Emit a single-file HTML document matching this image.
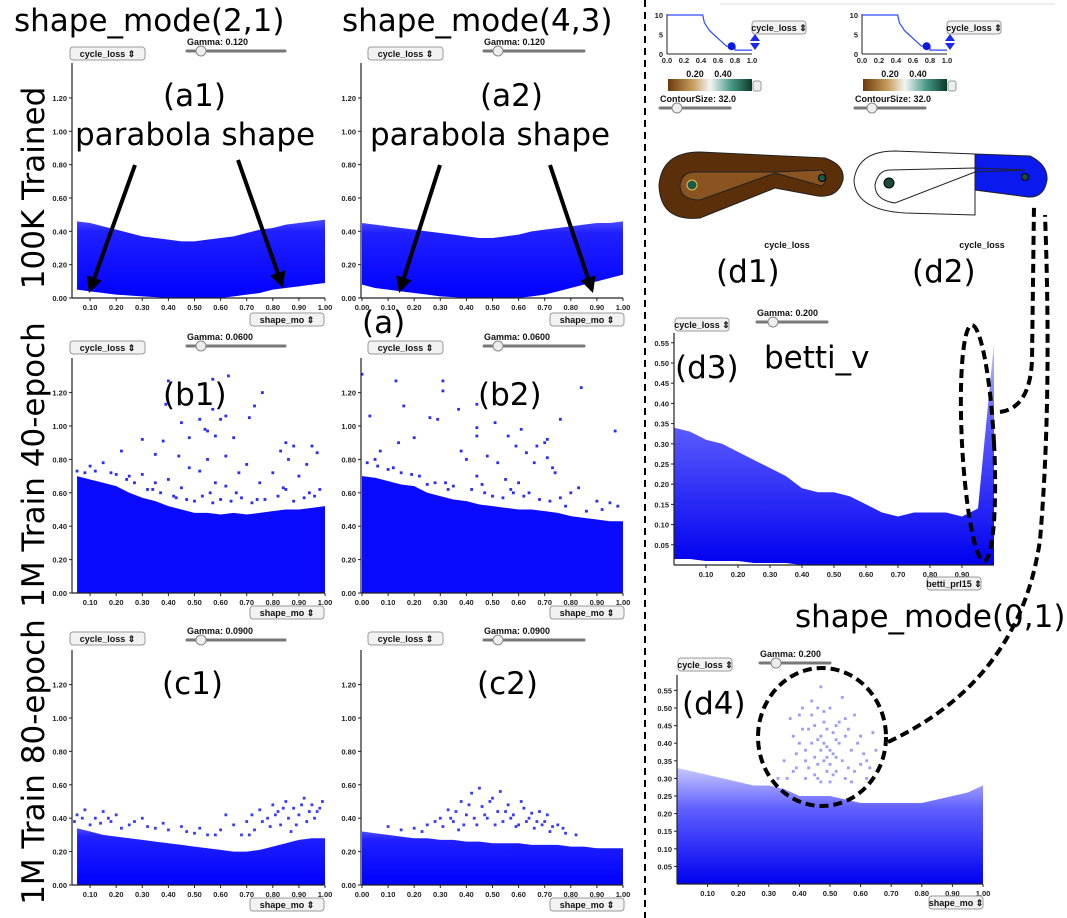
<!DOCTYPE html>
<html><head><meta charset="utf-8">
<style>
body{margin:0;background:#fff;}
svg{display:block;font-family:"DejaVu Sans","Liberation Sans",sans-serif;}
.big{font-size:31px;fill:#000;}
.tk{font-size:7.5px;fill:#222;font-family:"Liberation Sans",sans-serif;font-weight:bold;}
.btn{font-size:9px;font-family:"Liberation Sans",sans-serif;font-weight:bold;fill:#111;}
</style></head><body>
<svg id="fig" width="1067" height="918" viewBox="0 0 1067 918">
<defs>
<linearGradient id="gSolid" x1="0" y1="0" x2="0" y2="1"><stop offset="0" stop-color="#4a4aff"/><stop offset="0.15" stop-color="#2020ff"/><stop offset="1" stop-color="#0000ff"/></linearGradient>
<linearGradient id="gSoft" x1="0" y1="0" x2="0" y2="1"><stop offset="0" stop-color="#c8c8ff"/><stop offset="0.35" stop-color="#6060ff"/><stop offset="1" stop-color="#0000f0"/></linearGradient>
<linearGradient id="gCbar" x1="0" y1="0" x2="1" y2="0"><stop offset="0" stop-color="#6b3a0a"/><stop offset="0.3" stop-color="#c8a060"/><stop offset="0.5" stop-color="#f4f4f4"/><stop offset="0.75" stop-color="#4a9a88"/><stop offset="1" stop-color="#0a3a2a"/></linearGradient>
<marker id="arr" viewBox="0 0 10 10" refX="8" refY="5" markerWidth="4" markerHeight="4" orient="auto"><path d="M0,0 L10,5 L0,10 z" fill="#000"/></marker>
</defs>
<g id="root"></g>
</svg>
<script>
// ---- data (x grid 0..1 step 0.05) ----
const xGrid=[0,0.05,0.1,0.15,0.2,0.25,0.3,0.35,0.4,0.45,0.5,0.55,0.6,0.65,0.7,0.75,0.8,0.85,0.9,0.95,1.0];
const yTicksMain=[0,0.2,0.4,0.6,0.8,1.0,1.2];
const yTicksD=[0.05,0.1,0.15,0.2,0.25,0.3,0.35,0.4,0.45,0.5,0.55];
const xTicksFull=[0,0.1,0.2,0.3,0.4,0.5,0.6,0.7,0.8,0.9,1.0];
const xTicksNoZero=[0.1,0.2,0.3,0.4,0.5,0.6,0.7,0.8,0.9,1.0];
const xTicksD3=[0.1,0.2,0.3,0.4,0.5,0.6,0.7,0.8,0.9];
const a1Upper=[0.46,0.46,0.45,0.43,0.41,0.39,0.37,0.36,0.35,0.34,0.34,0.35,0.36,0.37,0.39,0.41,0.42,0.44,0.45,0.46,0.47];
const a1Lower=[0.05,0.05,0.04,0.03,0.02,0.015,0.01,0.005,0,0,0,0,0,0.01,0.02,0.03,0.05,0.06,0.07,0.08,0.09];
const a2Upper=[0.45,0.44,0.43,0.42,0.41,0.40,0.39,0.38,0.37,0.36,0.36,0.37,0.38,0.40,0.41,0.42,0.43,0.44,0.45,0.45,0.46];
const a2Lower=[0.08,0.06,0.05,0.04,0.03,0.02,0.01,0.005,0,0,0,0,0,0.01,0.02,0.04,0.06,0.08,0.10,0.12,0.14];
const b1Upper=[0.70,0.70,0.68,0.66,0.64,0.60,0.57,0.55,0.52,0.50,0.48,0.48,0.47,0.48,0.47,0.48,0.49,0.50,0.50,0.51,0.52];
const b2Upper=[0.70,0.69,0.67,0.65,0.64,0.60,0.58,0.56,0.55,0.53,0.52,0.51,0.50,0.50,0.49,0.48,0.46,0.45,0.44,0.43,0.43];
const c1Upper=[0.35,0.34,0.32,0.30,0.29,0.28,0.27,0.26,0.25,0.24,0.23,0.22,0.21,0.20,0.20,0.21,0.23,0.25,0.27,0.28,0.28];
const c2Upper=[0.32,0.31,0.30,0.29,0.28,0.28,0.27,0.27,0.26,0.26,0.25,0.25,0.25,0.24,0.24,0.24,0.23,0.23,0.22,0.22,0.22];
const d3Upper=[0.34,0.33,0.31,0.30,0.28,0.26,0.24,0.22,0.19,0.18,0.18,0.17,0.15,0.13,0.12,0.13,0.13,0.13,0.12,0.14,0.55];
const d4Upper=[0.33,0.32,0.31,0.30,0.29,0.28,0.28,0.27,0.25,0.25,0.25,0.24,0.23,0.23,0.23,0.23,0.23,0.24,0.25,0.26,0.28];
const zeroLower=[0,0,0,0,0,0,0,0,0,0,0,0,0,0,0,0,0,0,0,0,0];
const d3Lower=[0.015,0.015,0.01,0.01,0.01,0.005,0.005,0.005,0,0,0,0,0,0,0,0,0,0,0,0,0];
const b1PtsX=[0.40,0.57,0.63,0.39,0.76,0.73,0.57,0.62,0.71,0.45,0.52,0.60,0.54,0.55,0.30,0.48,0.65,0.58,0.38,0.44,0.35,0.22,0.85,0.88,0.95,0.97,0.83,0.86,0.93,0.70,0.15,0.10,0.55,0.62,0.48,0.52,0.67,0.80,0.30,0.25,0.40,0.58,0.75,0.90,0.35,0.45,0.62,0.85,0.98,0.12,0.18,0.20,0.27,0.32,0.37,0.42,0.47,0.50,0.53,0.57,0.60,0.64,0.68,0.72,0.77,0.82,0.88,0.92,0.96,0.05,0.08,0.24,0.34,0.43,0.56,0.66,0.74,0.84,0.94];
const b1PtsY=[1.27,1.28,1.30,1.13,1.20,1.12,1.10,1.06,1.05,1.02,1.04,1.04,0.98,0.97,0.92,0.93,0.93,0.94,0.91,0.82,0.83,0.85,0.90,0.88,0.88,0.84,0.85,0.80,0.77,0.77,0.78,0.76,0.80,0.82,0.75,0.73,0.72,0.72,0.71,0.70,0.68,0.66,0.66,0.70,0.66,0.63,0.64,0.62,0.62,0.73,0.72,0.71,0.66,0.62,0.60,0.58,0.56,0.55,0.58,0.54,0.56,0.55,0.57,0.54,0.56,0.58,0.55,0.57,0.58,0.73,0.72,0.68,0.62,0.57,0.60,0.60,0.56,0.63,0.60];
const b2PtsX=[0.00,0.13,0.31,0.31,0.84,0.16,0.44,0.37,0.03,0.26,0.29,0.51,0.76,0.61,0.97,0.44,0.20,0.44,0.56,0.14,0.71,0.70,0.67,0.59,0.38,0.07,0.48,0.63,0.71,0.05,0.40,0.52,0.66,0.73,0.74,0.44,0.55,0.83,0.32,0.25,0.60,0.90,0.95,0.80,0.02,0.06,0.10,0.15,0.22,0.28,0.35,0.42,0.47,0.50,0.54,0.58,0.62,0.68,0.72,0.78,0.86,0.92,0.98,0.12,0.19,0.33,0.46,0.57,0.64,0.76];
const b2PtsY=[1.31,1.27,1.27,1.21,1.23,1.12,1.13,1.10,1.06,1.05,1.04,1.02,1.04,0.98,0.97,0.99,0.93,0.94,0.94,0.90,0.92,0.90,0.88,0.88,0.85,0.85,0.82,0.84,0.81,0.80,0.80,0.78,0.78,0.75,0.72,0.70,0.68,0.63,0.66,0.65,0.66,0.55,0.54,0.60,0.78,0.76,0.74,0.72,0.70,0.66,0.64,0.62,0.60,0.58,0.57,0.60,0.58,0.56,0.55,0.52,0.49,0.50,0.52,0.75,0.71,0.62,0.65,0.62,0.60,0.57];
const c1PtsX=[0.05,0.08,0.12,0.15,0.18,0.20,0.25,0.30,0.35,0.40,0.45,0.50,0.55,0.60,0.65,0.70,0.72,0.75,0.78,0.80,0.82,0.85,0.88,0.90,0.92,0.95,0.97,0.99,0.68,0.62,0.83,0.93,0.10,0.22,0.87,0.04,0.07,0.14,0.17,0.27,0.32,0.38,0.47,0.52,0.58,0.73,0.76,0.79,0.84,0.86,0.89,0.91,0.94,0.96,0.98,0.81,0.71];
const c1PtsY=[0.42,0.45,0.40,0.44,0.38,0.42,0.36,0.40,0.34,0.33,0.35,0.31,0.30,0.33,0.36,0.38,0.42,0.45,0.40,0.48,0.44,0.50,0.46,0.42,0.52,0.48,0.44,0.50,0.30,0.42,0.36,0.38,0.36,0.34,0.32,0.38,0.40,0.37,0.40,0.38,0.35,0.37,0.32,0.34,0.30,0.33,0.38,0.35,0.46,0.40,0.36,0.48,0.44,0.40,0.46,0.42,0.30];
const c2PtsX=[0.30,0.33,0.35,0.38,0.40,0.42,0.44,0.46,0.48,0.50,0.52,0.54,0.56,0.58,0.60,0.62,0.64,0.66,0.68,0.70,0.72,0.75,0.78,0.25,0.20,0.15,0.45,0.53,0.37,0.82,0.10,0.31,0.34,0.36,0.39,0.41,0.43,0.47,0.49,0.51,0.55,0.57,0.59,0.61,0.63,0.65,0.67,0.69,0.71,0.73,0.28,0.23,0.77];
const c2PtsY=[0.40,0.45,0.38,0.50,0.42,0.55,0.36,0.47,0.40,0.52,0.44,0.38,0.48,0.42,0.36,0.46,0.40,0.34,0.44,0.38,0.32,0.36,0.31,0.36,0.34,0.33,0.58,0.56,0.33,0.30,0.35,0.35,0.40,0.44,0.36,0.48,0.40,0.42,0.50,0.36,0.44,0.40,0.35,0.50,0.38,0.43,0.38,0.36,0.42,0.35,0.38,0.32,0.34];
const d4PtsX=[0.35,0.38,0.40,0.42,0.44,0.45,0.47,0.48,0.50,0.52,0.53,0.55,0.57,0.58,0.60,0.43,0.46,0.49,0.51,0.41,0.54,0.39,0.56,0.44,0.48,0.50,0.46,0.52,0.62,0.65,0.33,0.47,0.49,0.51,0.36,0.37,0.39,0.41,0.42,0.43,0.45,0.46,0.47,0.48,0.49,0.50,0.51,0.52,0.53,0.54,0.55,0.56,0.58,0.59,0.61,0.63,0.64,0.45,0.47,0.49,0.50,0.52,0.48,0.46,0.44,0.42,0.40,0.38,0.55,0.57,0.60,0.62];
const d4PtsY=[0.35,0.42,0.48,0.38,0.52,0.45,0.56,0.40,0.50,0.36,0.46,0.42,0.38,0.48,0.34,0.33,0.34,0.32,0.43,0.44,0.53,0.37,0.33,0.40,0.46,0.38,0.50,0.41,0.30,0.38,0.30,0.29,0.36,0.31,0.30,0.47,0.33,0.50,0.30,0.44,0.36,0.41,0.38,0.49,0.44,0.34,0.37,0.32,0.40,0.35,0.30,0.44,0.32,0.40,0.37,0.33,0.43,0.31,0.42,0.39,0.29,0.45,0.35,0.30,0.48,0.35,0.40,0.32,0.47,0.29,0.42,0.35];
const stepX=[0,0.42,0.44,0.47,0.5,0.55,0.6,0.65,0.7,0.8,0.8,1.0];
const stepY=[10,10,8,7,6,5,4,3,2,2,1,1];

const NS="http://www.w3.org/2000/svg";
const root=document.getElementById('root');
function mk(tag,attrs,parent,txt){const e=document.createElementNS(NS,tag);for(const k in attrs)e.setAttribute(k,attrs[k]);if(txt!==undefined)e.textContent=txt;(parent||root).appendChild(e);return e;}

function panel(cfg){
  const g=mk('g',{});
  
  
  const sx=v=>cfg.x0+(cfg.x1-cfg.x0)*v;
  const sy=v=>cfg.y0-cfg.ppu*v;
  let d='';
  const idx=xGrid.map((x,i)=>i).filter(i=>xGrid[i]>=cfg.xmin-1e-9);
  idx.forEach((i,k)=>{const xx=Math.max(sx(xGrid[i]),cfg.ax);d+=(k?'L':'M')+xx+','+sy(cfg.up[i]);});
  idx.slice().reverse().forEach(i=>{const xx=Math.max(sx(xGrid[i]),cfg.ax);d+='L'+xx+','+sy(cfg.lo[i]);});
  const area=mk('path',{d:d+'Z',fill:cfg.fill},g);
  
  
  if(cfg.px){
    for(let i=0;i<cfg.px.length;i++){
      const r=mk('rect',{x:sx(cfg.px[i])-1.4,y:sy(cfg.py[i])-1.4,width:2.8,height:2.8,fill:cfg.pfill},g);
      
      
    }
  }
  mk('line',{x1:cfg.ax,y1:cfg.top,x2:cfg.ax,y2:cfg.y0,stroke:'#222','stroke-width':1.2},g);
  mk('line',{x1:cfg.ax,y1:cfg.y0,x2:sx(1),y2:cfg.y0,stroke:'#222','stroke-width':1.2},g);
  cfg.yt.forEach(v=>{
    mk('line',{x1:cfg.ax-3,y1:sy(v),x2:cfg.ax,y2:sy(v),stroke:'#222'},g);
    const t=mk('text',{x:cfg.ax-5,y:sy(v)+3,'text-anchor':'end',class:'tk'},g,v.toFixed(2));
    
    
  });
  cfg.xt.forEach(v=>{
    mk('line',{x1:sx(v),y1:cfg.y0,x2:sx(v),y2:cfg.y0+3,stroke:'#222'},g);
    const t=mk('text',{x:sx(v),y:cfg.y0+12,'text-anchor':'middle',class:'tk'},g,v.toFixed(2));
    
    
  });
}
function button(x,y,w,label,name){
  const g=mk('g',{});
  
  
  mk('rect',{x:x,y:y,width:w,height:13,rx:3,fill:'#f2f2f2',stroke:'#999'},g);
  mk('text',{x:x+w/2,y:y+10,'text-anchor':'middle',class:'btn'},g,label+' \u21D5');
}
function slider(x,y,w,knob,label,name){
  const t=mk('text',{x:x,y:y-6,class:'btn','font-size':'9'},root,label);
  
  
  const g=mk('g',{});
  
  
  mk('line',{x1:x,y1:y,x2:x+w,y2:y,stroke:'#777','stroke-width':3,'stroke-linecap':'round'},g);
  mk('circle',{cx:x+knob,cy:y,r:5,fill:'#eee',stroke:'#888'},g);
}
function big(x,y,txt,name,extra){
  const t=mk('text',Object.assign({x:x,y:y,class:'big'},extra||{}),root,txt);
  
  
}

const L={x0:64,x1:325,ax:72,xmin:0.03,xt:xTicksNoZero};
const R={x0:362,x1:623,ax:361,xmin:0,xt:xTicksFull};
panel(Object.assign({},L,{name:'panel-a1',y0:298,top:63,ppu:166.7,up:a1Upper,lo:a1Lower,fill:'url(#gSolid)',yt:yTicksMain}));
panel(Object.assign({},R,{name:'panel-a2',y0:298,top:63,ppu:166.7,up:a2Upper,lo:a2Lower,fill:'url(#gSolid)',yt:yTicksMain}));
panel(Object.assign({},L,{name:'panel-b1',y0:593,top:358,ppu:167,up:b1Upper,lo:zeroLower,fill:'#0a0aff',yt:yTicksMain,px:b1PtsX,py:b1PtsY,pfill:'#2a2aff'}));
panel(Object.assign({},R,{name:'panel-b2',y0:593,top:358,ppu:167,up:b2Upper,lo:zeroLower,fill:'#0a0aff',yt:yTicksMain,px:b2PtsX,py:b2PtsY,pfill:'#2a2aff'}));
panel(Object.assign({},L,{name:'panel-c1',y0:885,top:650,ppu:167,up:c1Upper,lo:zeroLower,fill:'url(#gSolid)',yt:yTicksMain,px:c1PtsX,py:c1PtsY,pfill:'#3a3aff'}));
panel(Object.assign({},R,{name:'panel-c2',y0:885,top:650,ppu:167,up:c2Upper,lo:zeroLower,fill:'url(#gSolid)',yt:yTicksMain,px:c2PtsX,py:c2PtsY,pfill:'#3a3aff'}));
panel({name:'panel-d3',x0:674,x1:994,ax:674,xmin:0,xt:xTicksD3,y0:565,top:333,ppu:404,up:d3Upper,lo:d3Lower,fill:'url(#gSoft)',yt:yTicksD});
panel({name:'panel-d4',x0:677,x1:983,ax:677,xmin:0,xt:xTicksNoZero,y0:884,top:675,ppu:352,up:d4Upper,lo:zeroLower,fill:'url(#gSoft)',yt:yTicksD,px:d4PtsX,py:d4PtsY,pfill:'#9a9aff'});

[[0,47,40,313],[1,341,335,606],[2,632,629,898]].forEach(([r,by,gy,sy])=>{
  button(70,by,75,'cycle_loss','y-select-left-'+r);
  button(368,by,75,'cycle_loss','y-select-right-'+r);
  const gm=['0.120','0.0600','0.0900'][r];
  slider(187,gy+11,98,14,'Gamma: '+gm,'gamma-slider-left-'+r);
  slider(484,gy+11,100,14,'Gamma: '+gm,'gamma-slider-right-'+r);
  button(250,sy,74,'shape_mo','x-select-left-'+r);
  button(550,sy,74,'shape_mo','x-select-right-'+r);
});
button(675,318,54,'cycle_loss','y-select-d3');
slider(757,322,70,16,'Gamma: 0.200','gamma-slider-d3');
button(927,577,54,'betti_prl15','x-select-d3');
button(678,658,54,'cycle_loss','y-select-d4');
slider(760,663,70,16,'Gamma: 0.200','gamma-slider-d4');
button(929,896,54,'shape_mo','x-select-d4');

big(14,31,'shape_mode(2,1)','column-title-1',{'font-size':'33'});
big(342,31,'shape_mode(4,3)','column-title-2',{'font-size':'33'});
big(44,188,'100K Trained','row-label-1',{transform:'rotate(-90 44 188)','text-anchor':'middle','font-size':'33'});
big(44,465,'1M Train 40-epoch','row-label-2',{transform:'rotate(-90 44 465)','text-anchor':'middle','font-size':'34'});
big(44,762,'1M Train 80-epoch','row-label-3',{transform:'rotate(-90 44 762)','text-anchor':'middle','font-size':'34'});
big(163,106,'(a1)','label-a1');
big(75,145,'parabola shape','annotation-a1',{'font-size':'33'});
big(480,106,'(a2)','label-a2');
big(370,145,'parabola shape','annotation-a2',{'font-size':'33'});
big(362,333,'(a)','label-a');
big(163,405,'(b1)','label-b1');
big(478,405,'(b2)','label-b2');
big(162,694,'(c1)','label-c1');
big(477,694,'(c2)','label-c2');
big(716,282,'(d1)','label-d1');
big(912,282,'(d2)','label-d2');
big(675,378,'(d3)','label-d3');
big(764,368,'betti_v','annotation-betti',{'font-size':'33'});
big(795,627,'shape_mode(0,1)','title-d4',{'font-size':'32'});
big(682,714,'(d4)','label-d4');

[[135,165,90,290],[238,160,282,285],[440,165,400,290],[550,165,592,290]].forEach((a,i)=>{
  const l=mk('line',{x1:a[0],y1:a[1],x2:a[2],y2:a[3],stroke:'#000','stroke-width':4,'marker-end':'url(#arr)'});
  
  
});

const dv=mk('line',{x1:645,y1:0,x2:645,y2:918,stroke:'#000','stroke-width':2,'stroke-dasharray':'7 5'});



[0,195].forEach((o,k)=>{
  const g=mk('g',{});
  
  
  const X=v=>667+o+85*v, Y=v=>54-3.9*v;
  mk('line',{x1:667+o,y1:14,x2:667+o,y2:54,stroke:'#222'},g);
  mk('line',{x1:667+o,y1:54,x2:752+o,y2:54,stroke:'#222'},g);
  [0,5,10].forEach(v=>mk('text',{x:663+o,y:Y(v)+3,'text-anchor':'end',class:'tk'},g,String(v)));
  [0,0.2,0.4,0.6,0.8,1.0].forEach(v=>mk('text',{x:X(v),y:63,'text-anchor':'middle',class:'tk'},g,v.toFixed(1)));
  let d='';stepX.forEach((x,i)=>{d+=(i?'L':'M')+X(x)+','+Y(stepY[i]);});
  mk('path',{d:d,fill:'none',stroke:'#2a4aff','stroke-width':1.2},g);
  mk('circle',{cx:X(0.76),cy:Y(2),r:4,fill:'#0a1adf'},g);
  mk('line',{x1:720+o,y1:4,x2:1055,y2:4,stroke:'#ddd'},g);
  mk('path',{d:`M${750+o},41 l5,-7 l5,7z M${750+o},43 l5,7 l5,-7z`,fill:'#1a2aef'},g);
  button(752+o,21,54,'cycle_loss','metric-select-'+(k+1));
  const cb=mk('g',{});
  
  
  mk('rect',{x:668+o,y:79,width:84,height:12,fill:'url(#gCbar)'},cb);
  mk('text',{x:695+o,y:77,'text-anchor':'middle',class:'btn','font-weight':'normal'},cb,'0.20');
  mk('text',{x:723+o,y:77,'text-anchor':'middle',class:'btn','font-weight':'normal'},cb,'0.40');
  const cs=mk('rect',{x:753+o,y:81,width:8,height:10,rx:2,fill:'#eee',stroke:'#999'});
  
  
  slider(660+o,108,70,17,'ContourSize: 32.0','contour-slider-'+(k+1));
  const t=mk('text',{x:787+o,y:248,'text-anchor':'middle',class:'btn','font-weight':'normal'},root,'cycle_loss');
  
  
});
const b1=mk('g',{});


mk('path',{d:'M700,152 L825,158 Q845,165 843,180 Q838,198 818,196 L775,188 L700,218 Q660,222 659,185 Q662,152 700,152Z',fill:'#5a2f0a',stroke:'#222'},b1);
mk('path',{d:'M695,172 L775,172 L822,170 Q830,178 822,186 L775,173 L700,200 Q680,200 680,185 Q682,172 695,172Z',fill:'#8a5420',stroke:'#222'},b1);
mk('circle',{cx:692,cy:185,r:5,fill:'#1a5a4a',stroke:'#e8c050'},b1);
mk('circle',{cx:822,cy:178,r:3.5,fill:'#1a5a4a',stroke:'#000'},b1);
const b2=mk('g',{});


mk('path',{d:'M895,151 L975,154 L975,215 L905,213 Q855,210 854,180 Q858,151 895,151Z',fill:'#fff',stroke:'#222'},b2);
mk('path',{d:'M975,154 L1030,156 Q1048,165 1047,180 Q1044,198 1028,197 L975,190Z',fill:'#0a1aef',stroke:'#222'},b2);
mk('path',{d:'M890,170 L975,168 L1025,170 L975,172 L895,203 Q875,200 875,185 Q878,170 890,170Z',fill:'none',stroke:'#222'},b2);
mk('circle',{cx:889,cy:183,r:5,fill:'#1a4a3a',stroke:'#000'},b2);
mk('circle',{cx:1025,cy:177,r:3.5,fill:'#1a4a3a',stroke:'#000'},b2);

[['ellipse',{cx:978,cy:443,rx:16,ry:118,transform:'rotate(-3 978 443)'},'callout-ellipse-d3'],
 ['ellipse',{cx:822,cy:737,rx:64,ry:69},'callout-ellipse-d4'],
 ['path',{d:'M1000,412 Q1030,408 1032,360 L1034,205'},'callout-line-d3'],
 ['path',{d:'M888,742 Q1020,680 1040,540 Q1052,400 1045,215'},'callout-line-d4']].forEach(([tag,a,n])=>{
  const e=mk(tag,Object.assign({fill:'none',stroke:'#000','stroke-width':4,'stroke-dasharray':'9 5'},a));
  
  
});
</script>
</body></html>
